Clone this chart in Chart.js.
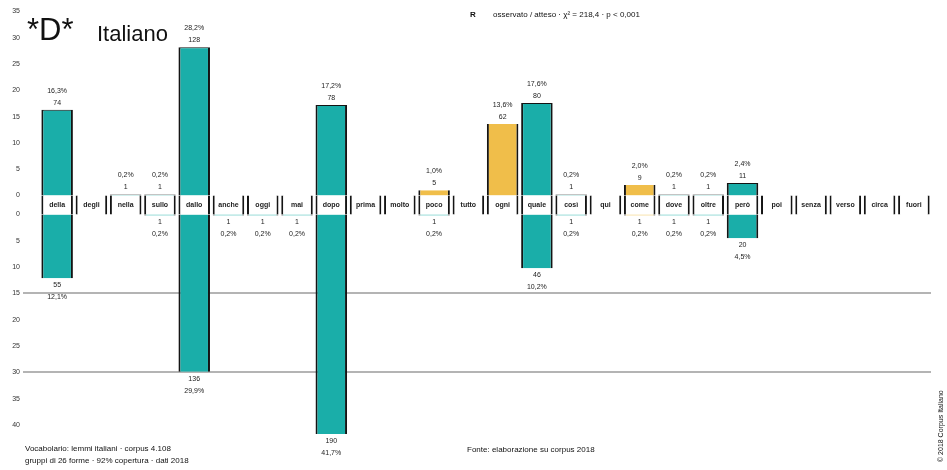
<!DOCTYPE html>
<html><head><meta charset="utf-8">
<script src="https://cdn.jsdelivr.net/npm/chart.js@4.4.1/dist/chart.umd.min.js"></script>
<style>html,body{margin:0;padding:0;background:#fff;}#wrap{width:947px;height:470px;position:relative;}</style>
</head><body><div id="wrap"><canvas id="c" width="947" height="470"></canvas></div>
<script>
// ---- data ----
const categories = ["della","degli","nella","sullo","dallo","anche","oggi","mai","dopo","prima","molto","poco","tutto","ogni","quale","così","qui","come","dove","oltre","però","poi","senza","verso","circa","fuori"];
const upTeal    = [16.3,null,0.2,0.2,28.2,null,null,null,17.2,null,null,null,null,null,17.6,0.2,null,null,0.2,0.2,2.4,null,null,null,null,null];
const upOrange  = [null,null,null,null,null,null,null,null,null,null,null,1.0,null,13.6,null,null,null,2.0,null,null,null,null,null,null,null,null];
const downTeal  = [12.1,null,null,0.2,29.9,0.2,0.2,0.2,41.7,null,null,0.2,null,null,10.2,0.2,null,null,0.2,0.2,4.5,null,null,null,null,null];
const downOrange= [null,null,null,null,null,null,null,null,null,null,null,null,null,null,null,null,null,0.2,null,null,null,null,null,null,null,null];
const upCount   = [74,null,1,1,128,null,null,null,78,null,null,5,null,62,80,1,null,9,1,1,11,null,null,null,null,null];
const downCount = [55,null,null,1,136,1,1,1,190,null,null,1,null,null,46,1,null,1,1,1,20,null,null,null,null,null];
const upTicks   = [0,5,10,15,20,25,30,35];
const downTicks = [0,5,10,15,20,25,30,35,40];
const refLines  = [15,30];

const G = 1.8; // half-height of the central label band, in axis units
const TEAL = '#1aaea9', ORANGE = '#f0be4a', EDGE = '#141414';
const FONT = '"Liberation Sans", Arial, sans-serif';

function fmtPct(v){ return v.toFixed(1).replace('.', ',') + '%'; }
function upVal(i){ return upTeal[i] != null ? upTeal[i] : upOrange[i]; }
function downVal(i){ return downTeal[i] != null ? downTeal[i] : downOrange[i]; }

const labelPlugin = {
  id: 'labels',
  afterDatasetsDraw(chart){
    const ctx = chart.ctx, xs = chart.scales.x, ys = chart.scales.y;
    ctx.save();
    ctx.textAlign = 'center'; ctx.textBaseline = 'middle';
    categories.forEach((c, i) => {
      const x = xs.getPixelForValue(i);
      ctx.fillStyle = '#222';
      ctx.font = 'bold 7px ' + FONT;
      ctx.fillText(c, x, ys.getPixelForValue(0));
      ctx.font = '7px ' + FONT;
      const u = upVal(i);
      if (u != null) {
        const y = ys.getPixelForValue(G + u);
        ctx.fillText(String(upCount[i]), x, y - 7);
        ctx.fillText(fmtPct(u), x, y - 19);
      }
      const d = downVal(i);
      if (d != null) {
        const y = ys.getPixelForValue(-G - d);
        ctx.fillText(String(downCount[i]), x, y + 7);
        ctx.fillText(fmtPct(d), x, y + 19);
      }
    });
    ctx.restore();
  }
};

const textPlugin = {
  id: 'texts',
  afterDraw(chart){
    const ctx = chart.ctx;
    ctx.save();
    ctx.fillStyle = '#111';
    ctx.textBaseline = 'alphabetic'; ctx.textAlign = 'left';
    ctx.font = '31px ' + FONT;
    ctx.fillText('*D*', 27, 40);
    ctx.font = '22px ' + FONT;
    ctx.fillText('Italiano', 97, 41);
    ctx.font = 'bold 8px ' + FONT;
    ctx.fillText('R', 470, 17);
    ctx.font = '8px ' + FONT;
    ctx.fillText('osservato / atteso · χ² = 218,4 · p < 0,001', 493, 17);
    ctx.fillText('Vocabolario: lemmi italiani · corpus 4.108', 25, 451);
    ctx.fillText('gruppi di 26 forme · 92% copertura · dati 2018', 25, 463);
    ctx.fillText('Fonte: elaborazione su corpus 2018', 467, 452);
    ctx.translate(943, 462); ctx.rotate(-Math.PI/2);
    ctx.font = '7px ' + FONT;
    ctx.fillText('© 2018 Corpus Italiano', 0, 0);
    ctx.restore();
  }
};

function isRef(v){ return refLines.some(r => Math.abs(v - (-G - r)) < 1e-6); }

const common = { grouped:false, borderSkipped:false, borderColor:EDGE };
new Chart(document.getElementById('c'), {
  type:'bar',
  data:{
    labels: categories,
    datasets:[
      Object.assign({label:'band', data: categories.map(() => [-G, G]), backgroundColor:'#fff', borderWidth:{left:2,right:2,top:0,bottom:0}, order:0}, common),
      Object.assign({label:'upTeal', data: upTeal.map(v => v == null ? null : [G, G + v]), backgroundColor:TEAL, borderWidth:{left:2,right:2,top:1,bottom:0}, order:1}, common),
      Object.assign({label:'upOrange', data: upOrange.map(v => v == null ? null : [G, G + v]), backgroundColor:ORANGE, borderWidth:{left:2,right:2,top:0,bottom:0}, order:1}, common),
      Object.assign({label:'downTeal', data: downTeal.map(v => v == null ? null : [-G - v, -G]), backgroundColor:TEAL, borderWidth:{left:2,right:2,top:0,bottom:0}, order:1}, common),
      Object.assign({label:'downOrange', data: downOrange.map(v => v == null ? null : [-G - v, -G]), backgroundColor:ORANGE, borderWidth:{left:2,right:2,top:0,bottom:0}, order:1}, common)
    ]
  },
  options:{
    responsive:false, animation:false,
    layout:{padding:{top:8,bottom:34,left:0,right:16}},
    datasets:{bar:{categoryPercentage:1, barPercentage:0.92}},
    plugins:{legend:{display:false}, tooltip:{enabled:false}, title:{display:false}},
    scales:{
      x:{display:false},
      y:{
        min:-43.9, max:37.45,
        afterBuildTicks(s){
          const t = upTicks.map(v => ({value: G + v})).concat(downTicks.map(v => ({value: -G - v})));
          t.sort((a,b) => a.value - b.value);
          s.ticks = t;
        },
        afterFit(s){ s.width = 40; },
        ticks:{autoSkip:false, color:'#333', padding:3, font:{size:7, family:FONT},
          callback:(v) => String(Math.round(Math.abs(v) - G))},
        grid:{lineWidth:2, tickLength:17,
          color:(c) => (c.tick && isRef(c.tick.value)) ? '#b4b4b4' : 'rgba(0,0,0,0)',
          tickColor:(c) => (c.tick && isRef(c.tick.value)) ? '#b4b4b4' : 'rgba(0,0,0,0)'},
        border:{display:false}
      }
    }
  },
  plugins:[labelPlugin, textPlugin]
});
</script></body></html>
